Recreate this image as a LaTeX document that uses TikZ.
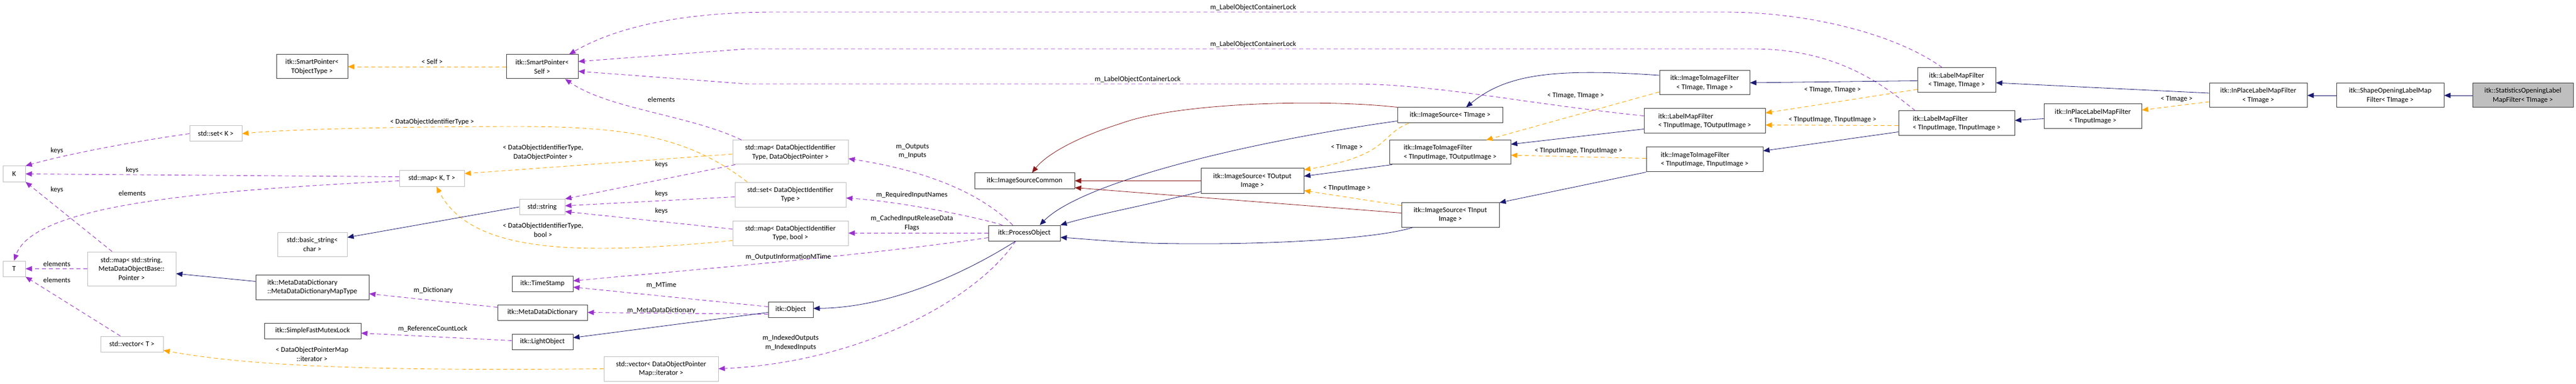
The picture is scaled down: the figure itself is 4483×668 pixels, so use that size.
\documentclass[tikz,border=0pt]{standalone}
\usepackage{fontspec}
\setmainfont{Carlito}
\usetikzlibrary{arrows.meta}
\definecolor{navyc}{HTML}{191970}
\definecolor{dredc}{HTML}{8B1A1A}
\definecolor{orngc}{HTML}{FFA500}
\definecolor{purpc}{HTML}{9A32CD}
\definecolor{lgray}{HTML}{BFBFBF}
\definecolor{dgray}{HTML}{404040}
\newcommand{\dxf}{\fontsize{12.5}{15.5}\selectfont}
\tikzset{
 box/.style={draw=dgray, line width=1pt, fill=white, inner sep=0pt, align=center, font=\dxf},
 sbox/.style={box, draw=lgray},
 tip/.style={-{Triangle[length=11pt,width=9pt]}},
 inh/.style={draw=navyc, line width=0.8pt, tip},
 vinh/.style={draw=dredc, line width=0.8pt, tip},
 tmpl/.style={draw=orngc, line width=0.9pt, dash pattern=on 7pt off 5pt, tip},
 mem/.style={draw=purpc, line width=0.9pt, dash pattern=on 7pt off 5pt, tip},
 lab/.style={font=\dxf, align=center, inner sep=0pt}
}
\begin{document}
\begin{tikzpicture}[x=1pt,y=-1pt]
\useasboundingbox (0,0) rectangle (4483,668);
% nodes
\node[box, minimum width=124pt, minimum height=42pt] (spT) at (543,116) {itk::SmartPointer<\\TObjectType >};
\node[box, minimum width=125pt, minimum height=42pt] (spS) at (943.5,116) {itk::SmartPointer<\\Self >};
\node[sbox, minimum width=91pt, minimum height=27pt] (setK) at (375.5,232.5) {std::set< K >};
\node[sbox, minimum width=39pt, minimum height=27pt] (K) at (24.5,302.5) {K};
\node[sbox, minimum width=39pt, minimum height=27pt] (T) at (24.5,467.5) {T};
\node[sbox, minimum width=154pt, minimum height=59pt] (mapStr) at (229,467.5) {std::map< std::string,\\MetaDataObjectBase::\\Pointer >};
\node[sbox, minimum width=121pt, minimum height=42pt] (bstr) at (543.5,425) {std::basic\_string<\\char >};
\node[box, minimum width=197pt, minimum height=43pt, align=left] (mddType) at (543.5,499.5) {itk::MetaDataDictionary\\::MetaDataDictionaryMapType};
\node[box, minimum width=168pt, minimum height=27pt] (mutex) at (544,575.5) {itk::SimpleFastMutexLock};
\node[sbox, minimum width=109pt, minimum height=27pt] (vecT) at (229.5,598.5) {std::vector< T >};
\node[sbox, minimum width=113pt, minimum height=27pt] (mapKT) at (751.5,310.5) {std::map< K, T >};
\node[sbox, minimum width=79pt, minimum height=27pt] (str) at (943.5,360) {std::string};
\node[box, minimum width=106pt, minimum height=27pt] (ts) at (944,493.5) {itk::TimeStamp};
\node[box, minimum width=156pt, minimum height=27pt] (mdd) at (944,543.5) {itk::MetaDataDictionary};
\node[box, minimum width=106pt, minimum height=27pt] (lo) at (944,594.5) {itk::LightObject};
\node[sbox, minimum width=199pt, minimum height=43pt] (vecIt) at (1150.5,641.5) {std::vector< DataObjectPointer\\Map::iterator >};
\node[sbox, minimum width=201pt, minimum height=42pt] (mapDOP) at (1375.5,265) {std::map< DataObjectIdentifier\\Type, DataObjectPointer >};
\node[sbox, minimum width=193pt, minimum height=43pt] (setD) at (1375.5,338.5) {std::set< DataObjectIdentifier\\Type >};
\node[sbox, minimum width=201pt, minimum height=43pt] (mapB) at (1375.5,405.5) {std::map< DataObjectIdentifier\\Type, bool >};
\node[box, minimum width=174pt, minimum height=27pt] (isc) at (1783,314.5) {itk::ImageSourceCommon};
\node[box, minimum width=125pt, minimum height=27pt] (po) at (1782.5,405.5) {itk::ProcessObject};
\node[box, minimum width=78pt, minimum height=27pt] (obj) at (1376,538.5) {itk::Object};
\node[box, minimum width=183pt, minimum height=27pt] (isTI) at (2523.5,200.5) {itk::ImageSource< TImage >};
\node[box, minimum width=211pt, minimum height=42pt, align=left] (i2iIO) at (2523.5,265) {itk::ImageToImageFilter\\< TInputImage, TOutputImage >};
\node[box, minimum width=179pt, minimum height=43pt] (isTO) at (2179.5,314.5) {itk::ImageSource< TOutput\\Image >};
\node[box, minimum width=170pt, minimum height=43pt] (isTIn) at (2524,373.5) {itk::ImageSource< TInput\\Image >};
\node[box, minimum width=157pt, minimum height=42pt] (i2iTT) at (2966.5,144) {itk::ImageToImageFilter\\< TImage, TImage >};
\node[box, minimum width=211pt, minimum height=43pt, align=left] (lmfIO) at (2966.5,210.5) {itk::LabelMapFilter\\< TInputImage, TOutputImage >};
\node[box, minimum width=203pt, minimum height=43pt, align=left] (i2iII) at (2966.5,277.5) {itk::ImageToImageFilter\\< TInputImage, TInputImage >};
\node[box, minimum width=136pt, minimum height=43pt] (lmfTT) at (3405,139.5) {itk::LabelMapFilter\\< TImage, TImage >};
\node[box, minimum width=202pt, minimum height=43pt, align=left] (lmfII) at (3405,214.5) {itk::LabelMapFilter\\< TInputImage, TInputImage >};
\node[box, minimum width=170pt, minimum height=43pt] (ipI) at (3642,202.5) {itk::InPlaceLabelMapFilter\\< TInputImage >};
\node[box, minimum width=170pt, minimum height=42pt] (ipT) at (3930,166) {itk::InPlaceLabelMapFilter\\< TImage >};
\node[box, minimum width=187pt, minimum height=42pt] (shape) at (4159.5,166) {itk::ShapeOpeningLabelMap\\Filter< TImage >};
\node[box, fill=lgray, minimum width=175pt, minimum height=42pt] (stat) at (4390.5,166) {itk::StatisticsOpeningLabel\\MapFilter< TImage >};
% purple member edges
\draw[mem] (setK.west) .. controls (220,248) and (110,270) .. (K.north east);
\draw[mem] ([yshift=3pt]mapKT.west) -- (K.east);
\draw[mem] ([yshift=-4pt]mapKT.west) .. controls (400,330) and (60,350) .. (T.north);
\draw[mem] ([xshift=-34pt]mapStr.north) -- (K.south east);
\draw[mem] (mapStr.west) -- (T.east);
\draw[mem] ([xshift=-20pt]vecT.north) -- (T.south east);
\draw[mem] ([xshift=-85pt]mapDOP.north) .. controls (1200,200) and (1060,190) .. ([xshift=40pt]spS.south);
\draw[mem] ([xshift=5pt]mapDOP.south west) -- (str.north east);
\draw[mem] ([yshift=-4pt]setD.west) -- ([yshift=2pt]str.east);
\draw[mem] ([yshift=7pt]mapB.west) -- ([yshift=-8pt]str.east);
\draw[mem] ([xshift=-20pt]po.north) .. controls (1700,330) and (1600,295) .. ([yshift=-11pt]mapDOP.east);
\draw[mem] ([xshift=-38pt]po.north) .. controls (1690,375) and (1560,350) .. ([yshift=-6pt]setD.east);
\draw[mem] (po.west) -- (mapB.east);
\draw[mem] ([yshift=-8pt]po.west) .. controls (1500,445) and (1200,470) .. ([yshift=5pt]ts.east);
\draw[mem] ([yshift=5pt]obj.west) -- ([yshift=-6pt]ts.east);
\draw[mem] ([yshift=-8pt]obj.west) -- (mdd.east);
\draw[mem] ([yshift=9pt]mdd.west) -- ([yshift=-11.5pt]mddType.east);
\draw[mem] ([yshift=2pt]lo.west) -- ([yshift=-4pt]mutex.east);
\draw[mem] ([xshift=-15pt]po.south) .. controls (1700,520) and (1500,630) .. (vecIt.east);
\draw[mem] ([xshift=-25pt]lmfTT.north) .. controls (3300,60) and (3150,21) .. (3000,21) -- (1350,21) .. controls (1150,21) and (1050,60) .. ([xshift=47pt]spS.north);
\draw[mem] ([xshift=-72pt]lmfII.north) .. controls (3280,150) and (3200,85) .. (3050,85) -- (1300,85) -- ([yshift=9pt]spS.east);
\draw[mem] ([yshift=9pt]lmfIO.west) .. controls (2650,180) and (2500,146) .. (2350,146) -- (1300,146) -- ([yshift=-8pt]spS.east);
% orange template edges
\draw[tmpl] (spS.west) -- (spT.east);
\draw[tmpl] ([yshift=-3pt]mapDOP.west) -- ([yshift=8.5pt]mapKT.east);
\draw[tmpl] ([xshift=-75pt]setD.north) .. controls (1200,240) and (1100,220) .. (900,220) .. controls (700,220) and (500,225) .. (setK.east);
\draw[tmpl] ([yshift=-13pt]mapB.west) .. controls (1000,445) and (820,440) .. ([xshift=8pt]mapKT.south);
\draw[tmpl] (vecIt.west) .. controls (700,645) and (450,640) .. ([yshift=-11pt]vecT.east);
\draw[tmpl] ([xshift=-72pt]isTI.south) .. controls (2400,235) and (2420,270) .. ([yshift=-3pt]isTO.north east);
\draw[tmpl] ([yshift=-6pt]isTIn.north west) -- ([yshift=5pt]isTO.south east);
\draw[tmpl] ([yshift=-16pt]i2iTT.west) -- ([xshift=63pt]i2iIO.north);
\draw[tmpl] ([yshift=2pt]i2iII.west) -- ([yshift=-5pt]i2iIO.east);
\draw[tmpl] ([yshift=-16pt]lmfTT.west) -- ([yshift=14pt]lmfIO.east);
\draw[tmpl] ([yshift=-4pt]lmfII.west) -- ([yshift=-7pt]lmfIO.east);
\draw[tmpl] ([yshift=-11pt]ipT.west) -- ([yshift=11pt]ipI.east);
% navy inheritance
\draw[inh] (str.west) -- ([yshift=12pt]bstr.east);
\draw[inh] ([yshift=10pt]mddType.west) -- ([yshift=-8.5pt]mapStr.east);
\draw[inh] ([yshift=-5pt]obj.west) -- ([yshift=7pt]lo.east);
\draw[inh] ([xshift=-15pt]po.south) .. controls (1680,475) and (1550,535) .. ([yshift=2pt]obj.east);
\draw[inh] ([yshift=-10pt]isTI.west) .. controls (2150,250) and (1880,320) .. ([xshift=27pt]po.north);
\draw[inh] ([yshift=3pt]isTO.south west) .. controls (1980,360) and (1900,375) .. (po.north east);
\draw[inh] ([xshift=-65pt]isTIn.south) .. controls (2400,415) and (2200,428) .. (2000,423) .. controls (1930,420) and (1880,415) .. ([yshift=-7.5pt]po.east);
\draw[inh] ([xshift=5pt]i2iIO.south west) -- ([yshift=8pt]isTO.east);
\draw[inh] ([yshift=13pt]i2iTT.west) .. controls (2700,118) and (2620,130) .. ([xshift=28pt]isTI.north);
\draw[inh] ([yshift=-14pt]lmfIO.west) -- ([yshift=14pt]i2iIO.east);
\draw[inh] (i2iII.south west) -- ([yshift=-1pt]isTIn.north east);
\draw[inh] ([yshift=-1pt]lmfTT.west) -- (i2iTT.east);
\draw[inh] ([yshift=-15pt]lmfII.west) -- ([yshift=15pt]i2iII.east);
\draw[inh] ([yshift=-4pt]ipI.west) -- ([yshift=5pt]lmfII.east);
\draw[inh] ([yshift=4pt]ipT.west) -- ([yshift=-4.5pt]lmfTT.east);
\draw[inh] (shape.west) -- (ipT.east);
\draw[inh] (stat.west) -- (shape.east);
% dark red
\draw[vinh] (isTI.north west) .. controls (2300,172) and (2050,178) .. (1950,215) .. controls (1870,240) and (1820,270) .. ([xshift=13pt]isc.north);
\draw[vinh] (isTO.west) -- (isc.east);
\draw[vinh] ([yshift=3pt]isTIn.west) -- ([yshift=-12pt]isc.east);
% labels
\node[lab] (l1) at (99,262) {keys};
\node[lab] (l2) at (230,296) {keys};
\node[lab] (l3) at (99,330) {keys};
\node[lab] (l4) at (230,336) {elements};
\node[lab] (l5) at (99,459) {elements};
\node[lab] (l6) at (99,487) {elements};
\node[lab] (l7) at (1151,173) {elements};
\node[lab] (l8) at (1151,286) {keys};
\node[lab] (l9) at (1151,337) {keys};
\node[lab] (l10) at (1151,367) {keys};
\node[lab] (l11) at (1588,263) {m\_Outputs\\m\_Inputs};
\node[lab] (l12) at (1587,339) {m\_RequiredInputNames};
\node[lab] (l13) at (1587,388) {m\_CachedInputReleaseData\\Flags};
\node[lab] (l14) at (1372,447) {m\_OutputInformationMTime};
\node[lab] (l15) at (1151,496) {m\_MTime};
\node[lab] (l16) at (1151,540) {m\_MetaDataDictionary};
\node[lab] (l17) at (754,505) {m\_Dictionary};
\node[lab] (l18) at (753,572) {m\_ReferenceCountLock};
\node[lab] (l19) at (1376,596) {m\_IndexedOutputs\\m\_IndexedInputs};
\node[lab] (l20) at (2181,13) {m\_LabelObjectContainerLock};
\node[lab] (l21) at (2181,77) {m\_LabelObjectContainerLock};
\node[lab] (l22) at (1980,138) {m\_LabelObjectContainerLock};
\node[lab] (l23) at (752,107) {< Self >};
\node[lab] (l24) at (752,212) {< DataObjectIdentifierType >};
\node[lab] (l25) at (945,265) {< DataObjectIdentifierType,\\DataObjectPointer >};
\node[lab] (l26) at (945,400) {< DataObjectIdentifierType,\\bool >};
\node[lab] (l27) at (543,616) {< DataObjectPointerMap\\::iterator >};
\node[lab] (l28) at (2344,257) {< TImage >};
\node[lab] (l29) at (2344,328) {< TInputImage >};
\node[lab] (l30) at (2742,167) {< TImage, TImage >};
\node[lab] (l31) at (2747,263) {< TInputImage, TInputImage >};
\node[lab] (l32) at (3189,157) {< TImage, TImage >};
\node[lab] (l33) at (3189,209) {< TInputImage, TInputImage >};
\node[lab] (l34) at (3788,173) {< TImage >};
\end{tikzpicture}
\end{document}
